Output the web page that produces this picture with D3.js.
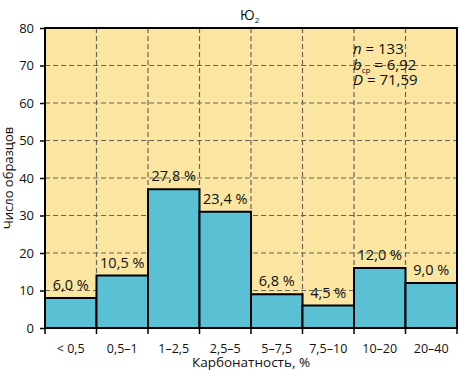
<!DOCTYPE html>
<html>
<head>
<meta charset="utf-8">
<script src="https://cdn.jsdelivr.net/npm/d3@7"></script>
<style>
  body { margin: 0; background: #fff; }
  text { font-family: 'Open Sans', sans-serif; fill: #111; }
</style>
</head>
<body>
<svg id="chart" width="458" height="370"></svg>
<script>
// bins of carbonate content and sample counts
const bins = ['< 0,5', '0,5–1', '1–2,5', '2,5–5', '5–7,5', '7,5–10', '10–20', '20–40']
const counts = [8, 14, 37, 31, 9, 6, 16, 12]
const percents = ['6,0 %', '10,5 %', '27,8 %', '23,4 %', '6,8 %', '4,5 %', '12,0 %', '9,0 %']
const yTicks = [0, 10, 20, 30, 40, 50, 60, 70, 80]

const svg = d3.select('#chart')
const m = { left: 45, right: 1, top: 28, bottom: 42 }
const W = 458, H = 370

const x = d3.scaleBand()
  .domain(bins)
  .range([m.left, W - m.right])
  .padding(0)

const y = d3.scaleLinear()
  .domain([0, 80])
  .range([H - m.bottom, m.top])

/* ---- plot background ---- */
svg.append('rect')
  .attr('x', m.left)
  .attr('y', m.top)
  .attr('width', W - m.right - m.left)
  .attr('height', y(0) - m.top)
  .attr('fill', '#fbe6a1')

/* ---- grid ---- */
const grid = svg.append('g')
  .attr('stroke', '#6b6458')
  .attr('stroke-width', 1.2)
  .attr('stroke-dasharray', '5,3')

grid.selectAll('.hg')
  .data(yTicks.slice(1, -1))
  .enter().append('line')
  .attr('x1', m.left).attr('x2', W - m.right)
  .attr('y1', d => y(d)).attr('y2', d => y(d))

grid.selectAll('.vg')
  .data(bins.slice(1))
  .enter().append('line')
  .attr('x1', d => x(d)).attr('x2', d => x(d))
  .attr('y1', m.top).attr('y2', y(0))

/* ---- bars ---- */
svg.selectAll('.bar')
  .data(bins)
  .enter().append('rect')
  .attr('class', 'bar')
  .attr('x', d => x(d))
  .attr('y', (d, i) => y(counts[i]))
  .attr('width', x.bandwidth())
  .attr('height', (d, i) => y(0) - y(counts[i]))
  .attr('fill', '#5ac0d3')
  .attr('stroke', '#000')
  .attr('stroke-width', 2)

/* value labels */
svg.selectAll('.lbl')
  .data(bins)
  .enter().append('text')
  .attr('x', d => x(d) + x.bandwidth() / 2)
  .attr('y', (d, i) => y(counts[i]) - 8)
  .attr('text-anchor', 'middle')
  .style('font-size', '14.5px')
  .text((d, i) => percents[i])

/* ---- frame ---- */
svg.append('rect')
  .attr('x', m.left)
  .attr('y', m.top)
  .attr('width', W - m.right - m.left)
  .attr('height', y(0) - m.top)
  .attr('fill', 'none')
  .attr('stroke', '#000')
  .attr('stroke-width', 2)

/* ---- axes ---- */
const yAxis = svg.append('g')
  .attr('transform', `translate(${m.left},0)`)
  .call(d3.axisLeft(y).tickValues(yTicks).tickSize(5).tickPadding(6))
yAxis.select('.domain').remove()
yAxis.selectAll('line').attr('stroke', '#000').attr('stroke-width', 1.5)
yAxis.selectAll('text').style('font-size', '13px').style('font-family', 'Open Sans').attr('fill', '#111')

const edges = bins.map(d => x(d)).concat([W - m.right])
svg.append('g').selectAll('line')
  .data(edges)
  .enter().append('line')
  .attr('x1', d => d).attr('x2', d => d)
  .attr('y1', y(0)).attr('y2', y(0) + 6)
  .attr('stroke', '#000')
  .attr('stroke-width', 1.5)

svg.selectAll('.xl')
  .data(bins)
  .enter().append('text')
  .attr('x', d => x(d) + x.bandwidth() / 2)
  .attr('y', 353)
  .attr('text-anchor', 'middle')
  .style('font-size', '12.5px')
  .text(d => d)

/* ---- titles ---- */
svg.append('text')
  .attr('x', (m.left + W - m.right) / 2)
  .attr('y', 367)
  .attr('text-anchor', 'middle')
  .style('font-size', '13.5px')
  .text('Карбонатность, %')

svg.append('text')
  .attr('transform', `translate(13, ${(m.top + y(0)) / 2}) rotate(-90)`)
  .attr('text-anchor', 'middle')
  .style('font-size', '13px')
  .text('Число образцов')

const title = svg.append('text')
  .attr('x', 240)
  .attr('y', 20)
  .style('font-size', '14px')
title.append('tspan').text('Ю')
title.append('tspan').attr('dy', 3).style('font-size', '8px').text('2')

/* ---- stats ---- */
const stats = svg.append('g').style('font-size', '15px')
const t1 = stats.append('text').attr('x', 353).attr('y', 54)
t1.append('tspan').style('font-style', 'italic').text('n')
t1.append('tspan').text(' = 133')
const t2 = stats.append('text').attr('x', 353).attr('y', 70)
t2.append('tspan').style('font-style', 'italic').text('b')
t2.append('tspan').attr('dy', 3).style('font-size', '8px').text('ср')
t2.append('tspan').attr('dy', -3).text(' = 6,92')
const t3 = stats.append('text').attr('x', 353).attr('y', 85)
t3.append('tspan').style('font-style', 'italic').text('D')
t3.append('tspan').text(' = 71,59')
</script>
</body>
</html>
